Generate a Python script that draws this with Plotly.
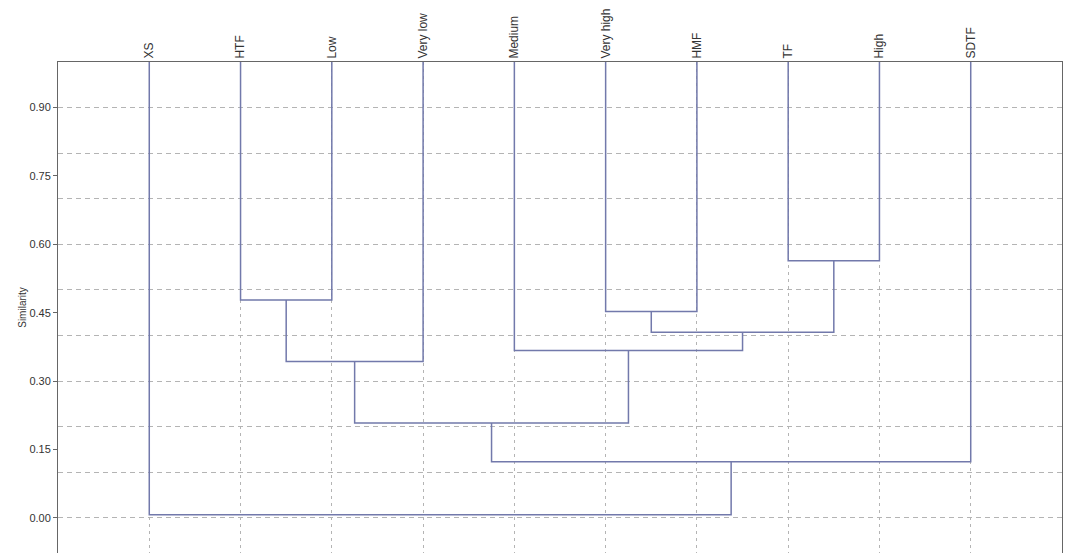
import plotly.graph_objects as go

# Leaves in display order (left to right)
leaves = ["XS", "HTF", "Low", "Very low", "Medium", "Very high", "HMF", "TF", "High", "SDTF"]
leaf_similarity = 1.0

# Linkage: clusters numbered after the leaves (10, 11, ...)
merge_left = [1, 10, 5, 7, 12, 4, 11, 16, 0]
merge_right = [2, 3, 6, 8, 13, 14, 15, 9, 17]
merge_height = [0.478, 0.343, 0.453, 0.564, 0.407, 0.367, 0.208, 0.123, 0.007]

ytick_vals = [0.00, 0.15, 0.30, 0.45, 0.60, 0.75, 0.90]
ytick_text = ["0.00", "0.15", "0.30", "0.45", "0.60", "0.75", "0.90"]

n = len(leaves)
pos = {i: i + 1 for i in range(n)}
hgt = {i: leaf_similarity for i in range(n)}

xs, ys = [], []
for k, (a, b, h) in enumerate(zip(merge_left, merge_right, merge_height)):
    cid = n + k
    xa, xb = pos[a], pos[b]
    xs += [xa, xa, xb, xb, None]
    ys += [hgt[a], h, h, hgt[b], None]
    pos[cid] = (xa + xb) / 2
    hgt[cid] = h

line_color = "#7279ab"
grid_color = "#b4b4b4"
axis_color = "#666666"
font_family = "Liberation Sans, Arial, sans-serif"

fig = go.Figure()
fig.add_trace(go.Scatter(x=[0], y=[0], xaxis="x", yaxis="y2", mode="markers",
                         marker=dict(opacity=0), hoverinfo="skip", showlegend=False))
fig.add_trace(go.Scatter(x=xs, y=ys, mode="lines",
                         line=dict(color=line_color, width=1.5),
                         hoverinfo="skip", showlegend=False))

yrange = [-0.077, 1.0]
fig.update_layout(
    width=1066, height=553,
    margin=dict(l=58, r=4, t=62, b=0, autoexpand=False),
    paper_bgcolor="white", plot_bgcolor="white",
    font=dict(family=font_family, size=11, color="#333333"),
    xaxis=dict(
        range=[0, n + 1], side="top", automargin=False,
        tickvals=list(range(1, n + 1)), ticktext=leaves, tickangle=-90,
        showgrid=True, gridcolor=grid_color, griddash="3px,4px", gridwidth=1,
        showline=True, linecolor=axis_color, linewidth=1, mirror=False,
        ticks="", ticklen=0, zeroline=False, tickfont=dict(size=12, color="#333333"),
    ),
    yaxis=dict(
        range=yrange, tickvals=ytick_vals, ticktext=ytick_text, automargin=False,
        showgrid=False, zeroline=False,
        showline=True, linecolor=axis_color, linewidth=1, mirror=True,
        ticks="outside", ticklen=4, tickcolor=axis_color,
        tickfont=dict(size=11, color="#333333"),
        title=dict(text="Similarity", font=dict(size=10, color="#333333"), standoff=0),
    ),
    yaxis2=dict(
        range=yrange, overlaying="y", dtick=0.1, tick0=0, automargin=False,
        showgrid=True, gridcolor=grid_color, griddash="5px,4px", gridwidth=1,
        showticklabels=False, zeroline=False, showline=False, ticks="",
    ),
)

fig.write_html(
    "out.html",
    config={"displayModeBar": False},
    post_script="document.body.style.margin='0';document.documentElement.style.overflow='hidden';",
)
